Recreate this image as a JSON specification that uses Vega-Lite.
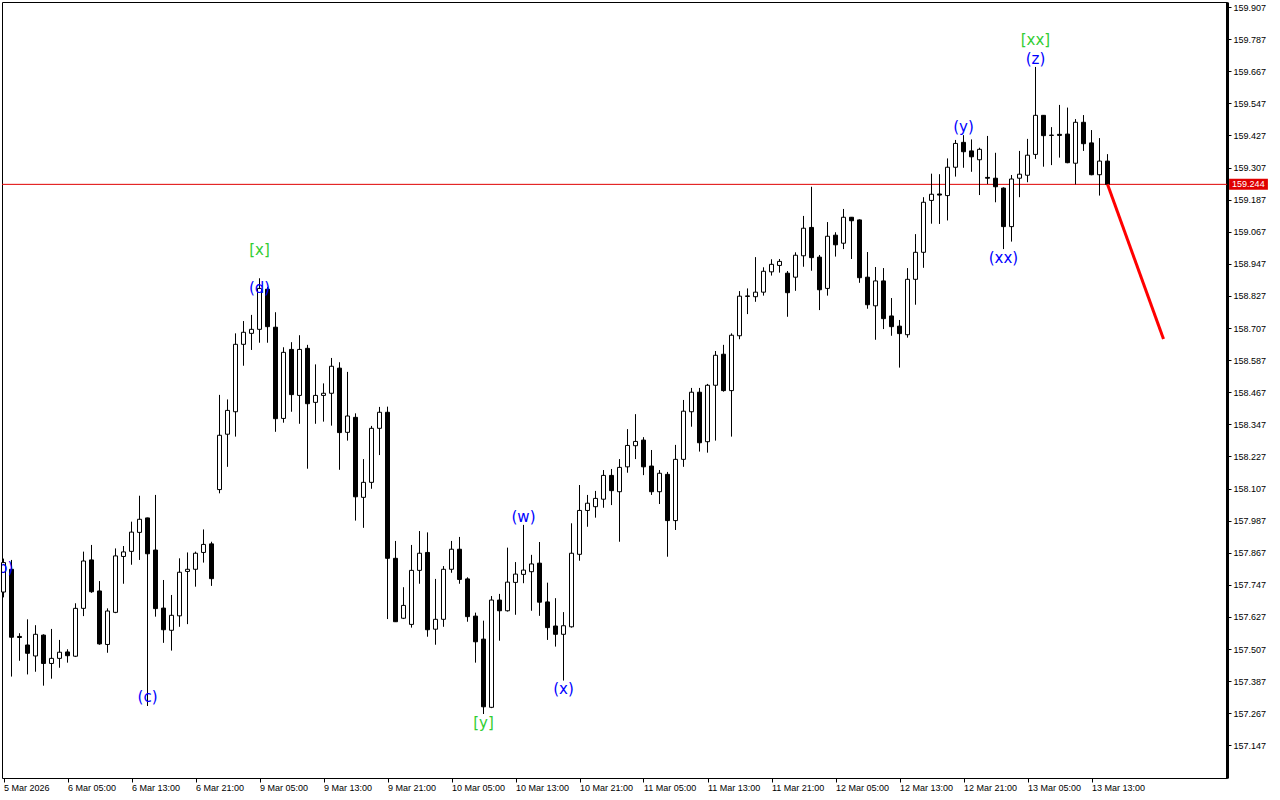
{
  "$schema": "https://vega.github.io/schema/vega-lite/v6.json",
  "width": 1225,
  "height": 776,
  "autosize": {"type": "none"},
  "padding": {"left": 2, "top": 2, "right": 53, "bottom": 22},
  "background": "white",
  "config": {
    "view": {"stroke": "black", "strokeWidth": 1},
    "scale": {"continuousPadding": 0},
    "axis": {"grid": false, "labelOverlap": false, "labelFlush": false, "labelBound": false, "labelFont": "Liberation Sans", "labelFontSize": 9, "labelColor": "black", "tickColor": "black", "tickSize": 4, "tickWidth": 1},
    "axisX": {"domain": false, "labelAlign": "left", "labelBaseline": "top", "labelPadding": 1},
    "axisY": {"domain": true, "domainColor": "black", "domainWidth": 3, "labelPadding": 2, "labelAlign": "left", "labelBaseline": "middle"}
  },
  "datasets": {
    "candles": [
      {"i":0,"o":157.720,"h":157.845,"l":157.700,"c":157.830},
      {"i":1,"o":157.805,"h":157.840,"l":157.404,"c":157.551},
      {"i":2,"o":157.554,"h":157.566,"l":157.463,"c":157.550},
      {"i":3,"o":157.522,"h":157.618,"l":157.412,"c":157.491},
      {"i":4,"o":157.481,"h":157.596,"l":157.422,"c":157.562},
      {"i":5,"o":157.559,"h":157.562,"l":157.370,"c":157.453},
      {"i":6,"o":157.453,"h":157.582,"l":157.396,"c":157.472},
      {"i":7,"o":157.472,"h":157.541,"l":157.437,"c":157.495},
      {"i":8,"o":157.496,"h":157.506,"l":157.456,"c":157.482},
      {"i":9,"o":157.480,"h":157.678,"l":157.477,"c":157.659},
      {"i":10,"o":157.659,"h":157.871,"l":157.630,"c":157.836},
      {"i":11,"o":157.840,"h":157.896,"l":157.717,"c":157.721},
      {"i":12,"o":157.724,"h":157.761,"l":157.523,"c":157.526},
      {"i":13,"o":157.524,"h":157.659,"l":157.493,"c":157.649},
      {"i":14,"o":157.644,"h":157.883,"l":157.641,"c":157.855},
      {"i":15,"o":157.853,"h":157.892,"l":157.751,"c":157.870},
      {"i":16,"o":157.872,"h":157.983,"l":157.822,"c":157.944},
      {"i":17,"o":157.943,"h":158.080,"l":157.840,"c":157.992},
      {"i":18,"o":157.997,"h":157.998,"l":157.294,"c":157.863},
      {"i":19,"o":157.877,"h":158.083,"l":157.628,"c":157.658},
      {"i":20,"o":157.660,"h":157.765,"l":157.530,"c":157.579},
      {"i":21,"o":157.577,"h":157.709,"l":157.501,"c":157.633},
      {"i":22,"o":157.631,"h":157.846,"l":157.590,"c":157.794},
      {"i":23,"o":157.797,"h":157.868,"l":157.600,"c":157.805},
      {"i":24,"o":157.805,"h":157.871,"l":157.740,"c":157.865},
      {"i":25,"o":157.868,"h":157.954,"l":157.830,"c":157.898},
      {"i":26,"o":157.900,"h":157.908,"l":157.743,"c":157.770},
      {"i":27,"o":158.103,"h":158.457,"l":158.089,"c":158.306},
      {"i":28,"o":158.310,"h":158.440,"l":158.188,"c":158.399},
      {"i":29,"o":158.394,"h":158.687,"l":158.301,"c":158.646},
      {"i":30,"o":158.646,"h":158.733,"l":158.566,"c":158.691},
      {"i":31,"o":158.687,"h":158.756,"l":158.625,"c":158.702},
      {"i":32,"o":158.702,"h":158.893,"l":158.652,"c":158.855},
      {"i":33,"o":158.852,"h":158.861,"l":158.652,"c":158.712},
      {"i":34,"o":158.710,"h":158.766,"l":158.319,"c":158.368},
      {"i":35,"o":158.369,"h":158.635,"l":158.353,"c":158.616},
      {"i":36,"o":158.627,"h":158.654,"l":158.394,"c":158.458},
      {"i":37,"o":158.455,"h":158.680,"l":158.349,"c":158.627},
      {"i":38,"o":158.631,"h":158.644,"l":158.181,"c":158.424},
      {"i":39,"o":158.429,"h":158.571,"l":158.349,"c":158.455},
      {"i":40,"o":158.455,"h":158.500,"l":158.357,"c":158.463},
      {"i":41,"o":158.463,"h":158.595,"l":158.342,"c":158.564},
      {"i":42,"o":158.557,"h":158.579,"l":158.177,"c":158.316},
      {"i":43,"o":158.317,"h":158.543,"l":158.286,"c":158.378},
      {"i":44,"o":158.373,"h":158.388,"l":157.987,"c":158.076},
      {"i":45,"o":158.074,"h":158.217,"l":157.960,"c":158.130},
      {"i":46,"o":158.130,"h":158.341,"l":158.106,"c":158.332},
      {"i":47,"o":158.332,"h":158.412,"l":158.232,"c":158.392},
      {"i":48,"o":158.392,"h":158.413,"l":157.619,"c":157.846},
      {"i":49,"o":157.846,"h":157.911,"l":157.608,"c":157.609},
      {"i":50,"o":157.622,"h":157.738,"l":157.619,"c":157.670},
      {"i":51,"o":157.599,"h":157.896,"l":157.587,"c":157.801},
      {"i":52,"o":157.801,"h":157.948,"l":157.751,"c":157.865},
      {"i":53,"o":157.868,"h":157.943,"l":157.553,"c":157.579},
      {"i":54,"o":157.581,"h":157.769,"l":157.523,"c":157.618},
      {"i":55,"o":157.618,"h":157.817,"l":157.590,"c":157.805},
      {"i":56,"o":157.805,"h":157.911,"l":157.792,"c":157.880},
      {"i":57,"o":157.880,"h":157.926,"l":157.751,"c":157.767},
      {"i":58,"o":157.769,"h":157.775,"l":157.609,"c":157.628},
      {"i":59,"o":157.630,"h":157.643,"l":157.456,"c":157.534},
      {"i":60,"o":157.544,"h":157.613,"l":157.264,"c":157.291},
      {"i":61,"o":157.289,"h":157.705,"l":157.286,"c":157.690},
      {"i":62,"o":157.690,"h":157.713,"l":157.538,"c":157.650},
      {"i":63,"o":157.650,"h":157.886,"l":157.647,"c":157.757},
      {"i":64,"o":157.756,"h":157.832,"l":157.635,"c":157.787},
      {"i":65,"o":157.786,"h":157.971,"l":157.753,"c":157.802},
      {"i":66,"o":157.796,"h":157.859,"l":157.650,"c":157.825},
      {"i":67,"o":157.828,"h":157.907,"l":157.631,"c":157.682},
      {"i":68,"o":157.683,"h":157.755,"l":157.541,"c":157.587},
      {"i":69,"o":157.593,"h":157.697,"l":157.516,"c":157.562},
      {"i":70,"o":157.562,"h":157.645,"l":157.389,"c":157.594},
      {"i":71,"o":157.590,"h":157.977,"l":157.587,"c":157.865},
      {"i":72,"o":157.861,"h":158.120,"l":157.837,"c":158.025},
      {"i":73,"o":158.025,"h":158.083,"l":157.964,"c":158.052},
      {"i":74,"o":158.039,"h":158.098,"l":157.998,"c":158.070},
      {"i":75,"o":158.067,"h":158.176,"l":158.035,"c":158.156},
      {"i":76,"o":158.156,"h":158.180,"l":158.045,"c":158.099},
      {"i":77,"o":158.095,"h":158.217,"l":157.908,"c":158.186},
      {"i":78,"o":158.188,"h":158.329,"l":158.166,"c":158.268},
      {"i":79,"o":158.267,"h":158.385,"l":158.217,"c":158.283},
      {"i":80,"o":158.288,"h":158.299,"l":158.157,"c":158.188},
      {"i":81,"o":158.191,"h":158.251,"l":158.083,"c":158.095},
      {"i":82,"o":158.095,"h":158.176,"l":158.049,"c":158.164},
      {"i":83,"o":158.160,"h":158.169,"l":157.852,"c":157.987},
      {"i":84,"o":157.987,"h":158.270,"l":157.952,"c":158.216},
      {"i":85,"o":158.216,"h":158.438,"l":158.188,"c":158.396},
      {"i":86,"o":158.394,"h":158.483,"l":158.338,"c":158.467},
      {"i":87,"o":158.467,"h":158.483,"l":158.245,"c":158.278},
      {"i":88,"o":158.282,"h":158.498,"l":158.241,"c":158.493},
      {"i":89,"o":158.493,"h":158.621,"l":158.286,"c":158.605},
      {"i":90,"o":158.609,"h":158.644,"l":158.469,"c":158.473},
      {"i":91,"o":158.473,"h":158.687,"l":158.301,"c":158.680},
      {"i":92,"o":158.678,"h":158.845,"l":158.665,"c":158.826},
      {"i":93,"o":158.825,"h":158.855,"l":158.759,"c":158.827},
      {"i":94,"o":158.824,"h":158.972,"l":158.805,"c":158.841},
      {"i":95,"o":158.841,"h":158.934,"l":158.828,"c":158.919},
      {"i":96,"o":158.917,"h":158.964,"l":158.903,"c":158.945},
      {"i":97,"o":158.941,"h":158.965,"l":158.914,"c":158.956},
      {"i":98,"o":158.912,"h":158.920,"l":158.749,"c":158.839},
      {"i":99,"o":158.897,"h":158.990,"l":158.846,"c":158.979},
      {"i":100,"o":158.977,"h":159.126,"l":158.936,"c":159.080},
      {"i":101,"o":159.083,"h":159.235,"l":158.921,"c":158.970},
      {"i":102,"o":158.972,"h":158.980,"l":158.774,"c":158.850},
      {"i":103,"o":158.855,"h":159.103,"l":158.828,"c":159.050},
      {"i":104,"o":159.054,"h":159.065,"l":158.974,"c":159.018},
      {"i":105,"o":159.024,"h":159.152,"l":159.002,"c":159.121},
      {"i":106,"o":159.121,"h":159.122,"l":158.965,"c":159.108},
      {"i":107,"o":159.111,"h":159.113,"l":158.876,"c":158.895},
      {"i":108,"o":158.897,"h":158.991,"l":158.779,"c":158.794},
      {"i":109,"o":158.790,"h":158.935,"l":158.663,"c":158.883},
      {"i":110,"o":158.883,"h":158.931,"l":158.703,"c":158.742},
      {"i":111,"o":158.752,"h":158.819,"l":158.678,"c":158.712},
      {"i":112,"o":158.714,"h":158.737,"l":158.559,"c":158.686},
      {"i":113,"o":158.682,"h":158.931,"l":158.671,"c":158.889},
      {"i":114,"o":158.889,"h":159.058,"l":158.794,"c":158.990},
      {"i":115,"o":158.990,"h":159.196,"l":158.932,"c":159.177},
      {"i":116,"o":159.184,"h":159.284,"l":159.097,"c":159.207},
      {"i":117,"o":159.208,"h":159.282,"l":159.096,"c":159.204},
      {"i":118,"o":159.202,"h":159.341,"l":159.109,"c":159.308},
      {"i":119,"o":159.308,"h":159.410,"l":159.273,"c":159.397},
      {"i":120,"o":159.401,"h":159.428,"l":159.306,"c":159.366},
      {"i":121,"o":159.369,"h":159.412,"l":159.291,"c":159.347},
      {"i":122,"o":159.336,"h":159.381,"l":159.204,"c":159.375},
      {"i":123,"o":159.270,"h":159.425,"l":159.245,"c":159.267},
      {"i":124,"o":159.267,"h":159.362,"l":159.177,"c":159.235},
      {"i":125,"o":159.230,"h":159.233,"l":159.002,"c":159.086},
      {"i":126,"o":159.086,"h":159.279,"l":159.030,"c":159.264},
      {"i":127,"o":159.267,"h":159.369,"l":159.196,"c":159.282},
      {"i":128,"o":159.278,"h":159.414,"l":159.252,"c":159.353},
      {"i":129,"o":159.356,"h":159.683,"l":159.339,"c":159.502},
      {"i":130,"o":159.502,"h":159.503,"l":159.310,"c":159.426},
      {"i":131,"o":159.428,"h":159.458,"l":159.316,"c":159.427},
      {"i":132,"o":159.431,"h":159.541,"l":159.344,"c":159.427},
      {"i":133,"o":159.432,"h":159.531,"l":159.323,"c":159.325},
      {"i":134,"o":159.323,"h":159.488,"l":159.244,"c":159.476},
      {"i":135,"o":159.476,"h":159.503,"l":159.369,"c":159.396},
      {"i":136,"o":159.399,"h":159.447,"l":159.278,"c":159.280},
      {"i":137,"o":159.280,"h":159.417,"l":159.202,"c":159.331},
      {"i":138,"o":159.331,"h":159.357,"l":159.243,"c":159.244}
    ],
    "labels": [
      {"i":-0.1,"p":157.810,"t":"(b)","deg":"minor"},
      {"i":32,"p":158.998,"t":"[x]","deg":"major"},
      {"i":32,"p":158.858,"t":"(d)","deg":"minor"},
      {"i":18,"p":157.326,"t":"(c)","deg":"minor"},
      {"i":60,"p":157.230,"t":"[y]","deg":"major"},
      {"i":65,"p":158.000,"t":"(w)","deg":"minor"},
      {"i":70,"p":157.357,"t":"(x)","deg":"minor"},
      {"i":120,"p":159.458,"t":"(y)","deg":"minor"},
      {"i":125,"p":158.970,"t":"(xx)","deg":"minor"},
      {"i":129,"p":159.785,"t":"[xx]","deg":"major"},
      {"i":129,"p":159.712,"t":"(z)","deg":"minor"}
    ],
    "proj": [
      {"i":138,"p":159.244},
      {"i":145,"p":158.666}
    ],
    "bid": [{"p":159.244}]
  },
  "layer": [
    {
      "data": {"name": "bid"},
      "mark": {"type": "rule", "color": "#e00000", "strokeWidth": 1},
      "encoding": {
        "y": {"field": "p", "type": "quantitative", "scale": {"domain": [157.0248, 159.9257], "nice": false, "zero": false, "padding": 0},
          "axis": {"orient": "right", "title": null, "format": ".3f", "values": [157.147,157.267,157.387,157.507,157.627,157.747,157.867,157.987,158.107,158.227,158.347,158.467,158.587,158.707,158.827,158.947,159.067,159.187,159.307,159.427,159.547,159.667,159.787,159.907]}}
      }
    },
    {
      "data": {"name": "candles"},
      "mark": {"type": "rule", "color": "black", "strokeWidth": 1},
      "encoding": {
        "x": {"field": "i", "type": "quantitative", "scale": {"domain": [-0.1875, 152.9375], "nice": false, "zero": false, "padding": 0},
          "axis": {"title": null, "values": [0,8,16,24,32,40,48,56,64,72,80,88,96,104,112,120,128,136], "labelExpr": "['5 Mar 2026','6 Mar 05:00','6 Mar 13:00','6 Mar 21:00','9 Mar 05:00','9 Mar 13:00','9 Mar 21:00','10 Mar 05:00','10 Mar 13:00','10 Mar 21:00','11 Mar 05:00','11 Mar 13:00','11 Mar 21:00','12 Mar 05:00','12 Mar 13:00','12 Mar 21:00','13 Mar 05:00','13 Mar 13:00'][floor(datum.value/8)]"}},
        "y": {"field": "l", "type": "quantitative", "scale": {"domain": [157.0248, 159.9257], "nice": false, "zero": false, "padding": 0},
          "axis": {"orient": "right", "title": null, "format": ".3f", "values": [157.147,157.267,157.387,157.507,157.627,157.747,157.867,157.987,158.107,158.227,158.347,158.467,158.587,158.707,158.827,158.947,159.067,159.187,159.307,159.427,159.547,159.667,159.787,159.907]}},
        "y2": {"field": "h"}
      }
    },
    {
      "data": {"name": "candles"},
      "mark": {"type": "bar", "orient": "vertical", "size": 4, "stroke": "black", "strokeWidth": 1},
      "encoding": {
        "x": {"field": "i", "type": "quantitative", "scale": {"domain": [-0.1875, 152.9375], "nice": false, "zero": false, "padding": 0},
          "axis": {"title": null, "values": [0,8,16,24,32,40,48,56,64,72,80,88,96,104,112,120,128,136], "labelExpr": "['5 Mar 2026','6 Mar 05:00','6 Mar 13:00','6 Mar 21:00','9 Mar 05:00','9 Mar 13:00','9 Mar 21:00','10 Mar 05:00','10 Mar 13:00','10 Mar 21:00','11 Mar 05:00','11 Mar 13:00','11 Mar 21:00','12 Mar 05:00','12 Mar 13:00','12 Mar 21:00','13 Mar 05:00','13 Mar 13:00'][floor(datum.value/8)]"}},
        "y": {"field": "o", "type": "quantitative", "scale": {"domain": [157.0248, 159.9257], "nice": false, "zero": false, "padding": 0},
          "axis": {"orient": "right", "title": null, "format": ".3f", "values": [157.147,157.267,157.387,157.507,157.627,157.747,157.867,157.987,158.107,158.227,158.347,158.467,158.587,158.707,158.827,158.947,159.067,159.187,159.307,159.427,159.547,159.667,159.787,159.907]}},
        "y2": {"field": "c"},
        "fill": {"condition": {"test": "datum.c >= datum.o", "value": "#ffffff"}, "value": "#000000"}
      }
    },
    {
      "data": {"name": "proj"},
      "mark": {"type": "line", "color": "#ff0000", "strokeWidth": 3},
      "encoding": {
        "x": {"field": "i", "type": "quantitative", "scale": {"domain": [-0.1875, 152.9375], "nice": false, "zero": false, "padding": 0},
          "axis": {"title": null, "values": [0,8,16,24,32,40,48,56,64,72,80,88,96,104,112,120,128,136], "labelExpr": "['5 Mar 2026','6 Mar 05:00','6 Mar 13:00','6 Mar 21:00','9 Mar 05:00','9 Mar 13:00','9 Mar 21:00','10 Mar 05:00','10 Mar 13:00','10 Mar 21:00','11 Mar 05:00','11 Mar 13:00','11 Mar 21:00','12 Mar 05:00','12 Mar 13:00','12 Mar 21:00','13 Mar 05:00','13 Mar 13:00'][floor(datum.value/8)]"}},
        "y": {"field": "p", "type": "quantitative", "scale": {"domain": [157.0248, 159.9257], "nice": false, "zero": false, "padding": 0},
          "axis": {"orient": "right", "title": null, "format": ".3f", "values": [157.147,157.267,157.387,157.507,157.627,157.747,157.867,157.987,158.107,158.227,158.347,158.467,158.587,158.707,158.827,158.947,159.067,159.187,159.307,159.427,159.547,159.667,159.787,159.907]}}
      }
    },
    {
      "data": {"name": "labels"},
      "mark": {"type": "text", "font": "DejaVu Sans", "fontSize": 15, "align": "center", "baseline": "middle", "clip": true},
      "encoding": {
        "x": {"field": "i", "type": "quantitative", "scale": {"domain": [-0.1875, 152.9375], "nice": false, "zero": false, "padding": 0},
          "axis": {"title": null, "values": [0,8,16,24,32,40,48,56,64,72,80,88,96,104,112,120,128,136], "labelExpr": "['5 Mar 2026','6 Mar 05:00','6 Mar 13:00','6 Mar 21:00','9 Mar 05:00','9 Mar 13:00','9 Mar 21:00','10 Mar 05:00','10 Mar 13:00','10 Mar 21:00','11 Mar 05:00','11 Mar 13:00','11 Mar 21:00','12 Mar 05:00','12 Mar 13:00','12 Mar 21:00','13 Mar 05:00','13 Mar 13:00'][floor(datum.value/8)]"}},
        "y": {"field": "p", "type": "quantitative", "scale": {"domain": [157.0248, 159.9257], "nice": false, "zero": false, "padding": 0},
          "axis": {"orient": "right", "title": null, "format": ".3f", "values": [157.147,157.267,157.387,157.507,157.627,157.747,157.867,157.987,158.107,158.227,158.347,158.467,158.587,158.707,158.827,158.947,159.067,159.187,159.307,159.427,159.547,159.667,159.787,159.907]}},
        "text": {"field": "t"},
        "color": {"field": "deg", "type": "nominal", "scale": {"domain": ["minor", "major"], "range": ["#0000ff", "#32cd32"]}, "legend": null}
      }
    },
    {
      "data": {"name": "bid"},
      "mark": {"type": "bar", "orient": "horizontal", "size": 11, "color": "#e00000", "clip": false},
      "encoding": {
        "x": {"datum": 153.2, "type": "quantitative", "scale": {"domain": [-0.1875, 152.9375], "nice": false, "zero": false, "padding": 0},
          "axis": {"title": null, "values": [0,8,16,24,32,40,48,56,64,72,80,88,96,104,112,120,128,136], "labelExpr": "['5 Mar 2026','6 Mar 05:00','6 Mar 13:00','6 Mar 21:00','9 Mar 05:00','9 Mar 13:00','9 Mar 21:00','10 Mar 05:00','10 Mar 13:00','10 Mar 21:00','11 Mar 05:00','11 Mar 13:00','11 Mar 21:00','12 Mar 05:00','12 Mar 13:00','12 Mar 21:00','13 Mar 05:00','13 Mar 13:00'][floor(datum.value/8)]"}},
        "x2": {"datum": 158.05},
        "y": {"field": "p", "type": "quantitative", "scale": {"domain": [157.0248, 159.9257], "nice": false, "zero": false, "padding": 0},
          "axis": {"orient": "right", "title": null, "format": ".3f", "values": [157.147,157.267,157.387,157.507,157.627,157.747,157.867,157.987,158.107,158.227,158.347,158.467,158.587,158.707,158.827,158.947,159.067,159.187,159.307,159.427,159.547,159.667,159.787,159.907]}}
      }
    },
    {
      "data": {"name": "bid"},
      "mark": {"type": "text", "font": "Liberation Sans", "fontSize": 9, "align": "left", "baseline": "middle", "dx": 3, "color": "white", "clip": false},
      "encoding": {
        "x": {"datum": 153.2, "type": "quantitative", "scale": {"domain": [-0.1875, 152.9375], "nice": false, "zero": false, "padding": 0},
          "axis": {"title": null, "values": [0,8,16,24,32,40,48,56,64,72,80,88,96,104,112,120,128,136], "labelExpr": "['5 Mar 2026','6 Mar 05:00','6 Mar 13:00','6 Mar 21:00','9 Mar 05:00','9 Mar 13:00','9 Mar 21:00','10 Mar 05:00','10 Mar 13:00','10 Mar 21:00','11 Mar 05:00','11 Mar 13:00','11 Mar 21:00','12 Mar 05:00','12 Mar 13:00','12 Mar 21:00','13 Mar 05:00','13 Mar 13:00'][floor(datum.value/8)]"}},
        "y": {"field": "p", "type": "quantitative", "scale": {"domain": [157.0248, 159.9257], "nice": false, "zero": false, "padding": 0},
          "axis": {"orient": "right", "title": null, "format": ".3f", "values": [157.147,157.267,157.387,157.507,157.627,157.747,157.867,157.987,158.107,158.227,158.347,158.467,158.587,158.707,158.827,158.947,159.067,159.187,159.307,159.427,159.547,159.667,159.787,159.907]}},
        "text": {"field": "p", "type": "quantitative", "format": ".3f"}
      }
    }
  ]
}
